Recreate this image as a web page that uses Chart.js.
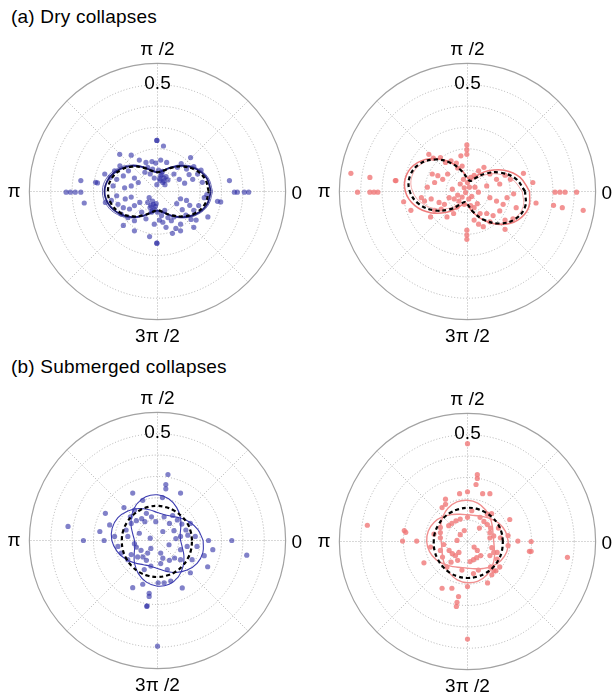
<!DOCTYPE html>
<html>
<head>
<meta charset="utf-8">
<script src="https://cdn.jsdelivr.net/npm/chart.js@4.4.1/dist/chart.umd.min.js"></script>
<style>
  body { margin: 0; width: 612px; height: 696px; overflow: hidden; background: #fff; position: relative;
         font-family: "Liberation Sans", Arial, sans-serif; }
  .title { position: absolute; left: 11px; font-size: 19px; line-height: 19px; letter-spacing: 0.2px;
           color: #000; white-space: nowrap; }
  canvas { position: absolute; }
</style>
</head>
<body>
<div class="title" style="top:7px">(a) Dry collapses</div>
<div class="title" style="top:357px">(b) Submerged collapses</div>
<canvas id="dryBlue" width="320" height="320" style="left:-3px;top:31px"></canvas>
<canvas id="dryPink" width="320" height="320" style="left:307px;top:31px"></canvas>
<canvas id="subBlue" width="320" height="320" style="left:-3px;top:380px"></canvas>
<canvas id="subPink" width="320" height="320" style="left:307px;top:381px"></canvas>
<script>
// polar grid
const gridRadii = [0.1, 0.2, 0.3, 0.4, 0.5];
const outerRadius = 0.6;
const spokeAngles = [0, 45, 90, 135, 180, 225, 270, 315];
const angleLabels = ["0", "π /2", "π", "3π /2"];
const radiusLabel = "0.5";

// fitted curves, radius every 15 degrees
const curveAngles = [0, 15, 30, 45, 60, 75, 90, 105, 120, 135, 150, 165,
  180, 195, 210, 225, 240, 255, 270, 285, 300, 315, 330, 345];

const dryBlueSolid = [0.250, 0.239, 0.210, 0.170, 0.130, 0.101, 0.090, 0.101, 0.130, 0.170, 0.207, 0.236,
  0.248, 0.236, 0.207, 0.170, 0.130, 0.101, 0.090, 0.101, 0.130, 0.170, 0.210, 0.239];
const dryBlueThin = [0.258, 0.246, 0.216, 0.175, 0.134, 0.104, 0.094, 0.104, 0.134, 0.175, 0.216, 0.246,
  0.258, 0.246, 0.216, 0.175, 0.134, 0.104, 0.094, 0.104, 0.134, 0.175, 0.216, 0.246];
const dryBlueDashed = [0.240, 0.230, 0.203, 0.165, 0.128, 0.100, 0.090, 0.100, 0.128, 0.165, 0.200, 0.224,
  0.232, 0.224, 0.200, 0.165, 0.128, 0.100, 0.088, 0.100, 0.128, 0.165, 0.203, 0.230];

const dryPinkSolid = [0.291, 0.255, 0.199, 0.137, 0.086, 0.060, 0.065, 0.101, 0.157, 0.219, 0.270, 0.296,
  0.291, 0.255, 0.199, 0.137, 0.086, 0.060, 0.065, 0.101, 0.157, 0.219, 0.270, 0.296];
const dryPinkThin = [0.257, 0.218, 0.164, 0.108, 0.067, 0.050, 0.063, 0.102, 0.156, 0.212, 0.253, 0.270,
  0.257, 0.218, 0.164, 0.108, 0.067, 0.050, 0.063, 0.102, 0.156, 0.212, 0.253, 0.270];
const dryPinkDashed = [0.270, 0.233, 0.177, 0.118, 0.072, 0.051, 0.060, 0.097, 0.153, 0.212, 0.258, 0.279,
  0.270, 0.233, 0.177, 0.118, 0.072, 0.051, 0.060, 0.097, 0.153, 0.212, 0.258, 0.279];

const subBlueA = [0.108, 0.110, 0.126, 0.152, 0.179, 0.202, 0.214, 0.212, 0.196, 0.170, 0.143, 0.120,
  0.108, 0.110, 0.126, 0.152, 0.179, 0.202, 0.214, 0.212, 0.196, 0.170, 0.143, 0.120];
const subBlueB = [0.214, 0.196, 0.173, 0.149, 0.131, 0.125, 0.131, 0.149, 0.173, 0.196, 0.214, 0.220,
  0.214, 0.196, 0.173, 0.149, 0.131, 0.125, 0.131, 0.149, 0.173, 0.196, 0.214, 0.220];
const subBlueDashed = [0.162, 0.161, 0.161, 0.160, 0.160, 0.161, 0.162, 0.163, 0.164, 0.165, 0.166, 0.167,
  0.167, 0.168, 0.169, 0.170, 0.171, 0.171, 0.171, 0.170, 0.169, 0.167, 0.165, 0.163];

const subPinkA = [0.123, 0.124, 0.135, 0.152, 0.170, 0.186, 0.193, 0.192, 0.181, 0.164, 0.146, 0.130,
  0.123, 0.124, 0.135, 0.152, 0.170, 0.186, 0.193, 0.192, 0.181, 0.164, 0.146, 0.130];
const subPinkB = [0.191, 0.184, 0.170, 0.152, 0.136, 0.126, 0.125, 0.132, 0.146, 0.164, 0.180, 0.190,
  0.191, 0.184, 0.170, 0.152, 0.136, 0.126, 0.125, 0.132, 0.146, 0.164, 0.180, 0.190];
const subPinkDashed = [0.166, 0.165, 0.164, 0.162, 0.160, 0.159, 0.158, 0.157, 0.157, 0.157, 0.157, 0.158,
  0.158, 0.160, 0.162, 0.165, 0.168, 0.170, 0.171, 0.171, 0.171, 0.170, 0.169, 0.167];

// measured points as [r cos(theta), r sin(theta)]
const dryBluePoints = [
  [-0.003, 0.239], [-0.003, 0.239], [-0.003, -0.242], [-0.003, -0.242], [0.028, 0.213], [-0.037, -0.211],
  [-0.290, 0.043], [-0.281, 0.040], [-0.343, -0.054], [-0.177, 0.174], [-0.123, 0.170], [-0.085, 0.147],
  [-0.054, 0.136], [-0.026, 0.140], [-0.008, 0.133], [0.015, 0.147], [0.043, 0.136], [-0.046, 0.113],
  [0.005, 0.100], [0.023, 0.094], [0.015, 0.074], [0.031, 0.063], [0.012, 0.051], [0.025, 0.042],
  [0.035, 0.032], [0.049, 0.054], [-0.003, 0.032], [-0.015, 0.063], [-0.034, 0.082], [-0.023, 0.105],
  [-0.059, 0.090], [0.093, 0.113], [0.111, 0.131], [0.136, 0.105], [0.148, 0.079], [0.165, 0.057],
  [0.188, 0.082], [0.204, 0.100], [0.170, 0.116], [0.077, 0.082], [0.102, 0.057], [0.127, 0.039],
  [0.210, 0.043], [0.231, -0.014], [0.281, -0.046], [0.296, -0.049], [0.236, -0.119], [0.219, -0.029],
  [0.193, -0.066], [0.170, -0.088], [0.151, -0.065], [0.136, -0.042], [0.108, -0.034], [0.090, -0.057],
  [0.116, -0.085], [0.133, -0.110], [0.157, -0.131], [0.181, -0.134], [0.086, -0.173], [0.108, -0.153],
  [0.170, -0.168], [-0.247, 0.082], [-0.222, 0.066], [-0.191, 0.057], [-0.160, 0.073], [-0.136, 0.097],
  [-0.176, 0.120], [-0.201, 0.097], [-0.108, 0.063], [-0.090, 0.042], [-0.123, 0.026], [-0.154, 0.017],
  [-0.208, 0.026], [-0.244, -0.051], [-0.216, -0.042], [-0.185, -0.060], [-0.160, -0.076], [-0.131, -0.082],
  [-0.108, -0.066], [-0.083, -0.051], [-0.151, -0.035], [-0.191, -0.020], [-0.123, -0.026], [-0.170, -0.106],
  [-0.139, -0.122], [-0.108, -0.137], [-0.074, -0.097], [-0.054, -0.128], [-0.039, -0.029], [-0.023, -0.045],
  [-0.031, -0.066], [-0.015, -0.082], [-0.006, -0.057], [-0.046, -0.051], [-0.028, -0.097], [0.000, -0.097],
  [0.019, -0.113], [0.034, -0.088], [0.049, -0.122], [0.009, -0.134], [-0.015, -0.153], [0.025, -0.144],
  [0.065, -0.137], [0.040, -0.168], [0.077, -0.119], [-0.108, -0.184], [0.108, -0.184], [-0.160, -0.159],
  [-0.428, -0.003], [-0.408, -0.003], [-0.385, -0.003], [-0.359, -0.003], [-0.359, 0.051], [0.337, 0.051],
  [0.360, -0.003], [0.374, -0.003], [0.407, -0.003], [0.427, -0.003], [0.155, 0.159], [0.070, -0.196],
  [0.020, 0.080], [0.040, 0.070], [0.010, 0.060], [0.030, 0.050], [-0.020, -0.060], [-0.035, -0.075],
  [-0.010, -0.070], [-0.025, -0.090]
];
const dryPinkPoints = [
  [-0.003, 0.218], [-0.003, 0.196], [-0.003, 0.174], [-0.003, -0.181], [-0.003, -0.204], [-0.003, -0.224],
  [-0.181, 0.174], [-0.160, 0.156], [-0.127, 0.159], [-0.103, 0.136], [-0.077, 0.144], [-0.052, 0.133],
  [-0.031, 0.167], [-0.046, 0.110], [-0.025, 0.119], [-0.165, 0.082], [-0.139, 0.074], [-0.116, 0.057],
  [-0.093, 0.082], [-0.154, 0.042], [-0.188, 0.020], [-0.216, -0.029], [-0.201, -0.045], [-0.170, -0.035],
  [-0.133, -0.051], [-0.108, -0.060], [-0.154, -0.088], [-0.123, -0.082], [-0.086, -0.029], [-0.071, 0.011],
  [-0.062, -0.035], [-0.046, -0.017], [-0.019, 0.057], [0.000, 0.042], [0.015, 0.066], [0.031, 0.076],
  [-0.034, 0.035], [-0.015, 0.017], [-0.009, -0.005], [-0.025, -0.026], [-0.040, -0.045], [-0.015, -0.060],
  [0.006, -0.035], [0.015, -0.066], [0.031, -0.076], [0.046, -0.057], [0.052, 0.097], [0.077, 0.113],
  [0.105, 0.082], [0.136, 0.057], [0.176, 0.076], [0.201, 0.057], [0.151, 0.035], [0.090, 0.026],
  [0.105, -0.029], [0.136, -0.045], [0.167, -0.060], [0.185, -0.029], [0.216, -0.011], [0.151, -0.091],
  [0.120, -0.113], [0.090, -0.103], [0.176, -0.134], [0.213, -0.128], [0.228, -0.076], [0.262, 0.085],
  [0.306, 0.042], [0.321, -0.054], [0.031, -0.134], [0.052, -0.153], [-0.335, 0.051], [-0.299, -0.048],
  [-0.265, -0.088], [0.074, -0.165], [0.105, -0.142], [-0.065, -0.103], [-0.096, -0.119], [-0.173, -0.119],
  [0.009, 0.020], [0.020, -0.023], [0.035, 0.020], [0.051, -0.003], [-0.049, -0.073], [0.059, -0.103],
  [-0.546, 0.085], [-0.515, -0.003], [-0.457, -0.003], [-0.438, -0.003], [-0.420, -0.003], [-0.457, 0.066],
  [-0.338, 0.051], [0.410, -0.003], [0.433, -0.003], [0.457, -0.003], [0.511, -0.003], [0.403, -0.065],
  [0.444, -0.076], [0.542, -0.088], [0.176, -0.177]
];
const subBluePoints = [
  [0.049, 0.309], [0.039, 0.262], [0.039, 0.242], [0.108, 0.222], [-0.116, 0.222], [-0.157, 0.154],
  [-0.108, 0.142], [-0.244, 0.127], [-0.224, 0.073], [-0.270, 0.042], [-0.250, 0.000], [-0.347, 0.000],
  [-0.127, 0.111], [-0.099, 0.093], [-0.074, 0.102], [-0.052, 0.127], [-0.028, 0.111], [-0.059, 0.088],
  [0.071, 0.117], [0.093, 0.096], [0.114, 0.077], [0.056, 0.080], [0.077, 0.046], [0.133, 0.049],
  [0.142, 0.025], [0.108, 0.019], [0.086, 0.009], [0.239, 0.000], [0.259, -0.043], [0.219, -0.071],
  [0.235, -0.123], [0.154, -0.151], [0.108, -0.090], [0.080, -0.082], [0.056, -0.093], [0.025, -0.083],
  [0.015, -0.108], [-0.046, -0.059], [-0.077, -0.046], [-0.093, -0.077], [-0.108, -0.015], [-0.099, -0.031],
  [-0.068, -0.077], [-0.052, -0.093], [-0.031, -0.037], [0.025, 0.042], [-0.034, 0.011], [-0.116, -0.221],
  [-0.069, -0.205], [-0.039, -0.247], [-0.039, -0.262], [-0.049, -0.306], [0.003, -0.198], [0.031, -0.198],
  [0.062, -0.190], [0.116, -0.222], [-0.419, 0.066], [0.348, 0.000], [0.418, -0.069], [0.000, -0.495],
  [-0.050, -0.309], [0.023, 0.201], [-0.069, 0.188], [-0.147, 0.049], [-0.139, 0.019], [-0.123, -0.066],
  [-0.139, -0.090], [-0.031, -0.120], [-0.062, -0.136], [0.046, -0.136], [0.108, -0.043], [0.139, -0.028],
  [0.162, -0.090], [0.177, 0.019], [0.185, -0.028], [0.054, -0.020], [0.015, -0.059], [-0.085, 0.034],
  [-0.123, 0.080], [-0.008, 0.088], [0.031, 0.111], [0.154, 0.080], [-0.201, 0.019], [-0.185, -0.028],
  [-0.170, -0.059]
];
const subPinkPoints = [
  [0.046, 0.313], [0.046, 0.295], [0.040, 0.267], [0.000, 0.233], [-0.037, 0.224], [0.071, 0.224],
  [0.105, 0.224], [-0.103, 0.198], [-0.119, 0.159], [-0.296, 0.051], [-0.289, 0.043], [-0.304, 0.002],
  [-0.238, 0.002], [0.236, 0.002], [0.298, 0.000], [0.290, -0.046], [0.298, -0.046], [-0.204, -0.100],
  [-0.119, -0.219], [-0.073, -0.219], [0.000, -0.211], [-0.042, -0.258], [-0.049, -0.285], [-0.052, -0.304],
  [0.000, 0.458], [-0.469, 0.076], [0.468, -0.074], [0.000, -0.457], [0.198, 0.103], [0.094, -0.194],
  [0.114, -0.156], [0.133, -0.137], [-0.088, 0.074], [-0.073, 0.085], [-0.054, 0.097], [-0.034, 0.105],
  [-0.127, 0.066], [-0.127, 0.042], [-0.127, 0.017], [-0.111, -0.014], [-0.127, -0.042], [-0.117, -0.073],
  [0.059, 0.113], [0.077, 0.094], [0.093, 0.079], [0.108, 0.063], [0.056, 0.063], [0.105, 0.042],
  [0.123, 0.026], [0.105, 0.017], [0.114, -0.029], [0.123, -0.051], [0.105, -0.066], [0.062, -0.066],
  [0.043, -0.076], [0.028, -0.085], [0.012, -0.094], [-0.086, -0.042], [-0.071, -0.057], [-0.056, -0.066],
  [-0.040, -0.051], [-0.046, -0.088], [-0.077, -0.097], [-0.096, -0.119], [0.145, 0.063], [0.154, 0.017],
  [0.139, -0.051], [0.139, -0.082], [0.151, -0.119], [0.093, 0.128], [0.113, 0.131], [0.108, -0.119],
  [0.123, -0.137], [0.000, 0.113], [-0.015, 0.051], [-0.034, 0.032], [0.031, -0.026], [0.046, -0.042],
  [-0.103, 0.174], [-0.157, 0.035], [-0.173, -0.026], [-0.026, -0.134], [0.028, -0.150], [0.051, -0.134],
  [0.190, 0.028], [0.190, -0.019], [-0.049, 0.005], [0.020, 0.144]
];

const pxPerUnit = 219;
const blueDots = "rgba(45, 45, 165, 0.6)";
const pinkDots = "rgba(240, 120, 120, 0.8)";
const labelFont = '19px "Liberation Sans", Arial, sans-serif';

function curvePoints(radii) {
  const pts = radii.map((r, i) => {
    const a = curveAngles[i] * Math.PI / 180;
    return { x: r * Math.cos(a), y: r * Math.sin(a) };
  });
  pts.push(pts[0]);
  return pts;
}

const polarGrid = {
  id: "polarGrid",
  beforeDatasetsDraw(chart) {
    const { ctx, scales: { x, y } } = chart;
    const cx = x.getPixelForValue(0), cy = y.getPixelForValue(0);
    const unit = x.getPixelForValue(1) - cx;
    ctx.save();
    ctx.strokeStyle = "#b0b0b0";
    ctx.lineWidth = 1;
    ctx.setLineDash([1, 2]);
    gridRadii.forEach((r) => {
      ctx.beginPath();
      ctx.arc(cx, cy, r * unit, 0, 2 * Math.PI);
      ctx.stroke();
    });
    spokeAngles.forEach((deg) => {
      const a = deg * Math.PI / 180;
      ctx.beginPath();
      ctx.moveTo(cx, cy);
      ctx.lineTo(cx + outerRadius * unit * Math.cos(a), cy - outerRadius * unit * Math.sin(a));
      ctx.stroke();
    });
    ctx.setLineDash([]);
    ctx.strokeStyle = "#a2a2a2";
    ctx.lineWidth = 1.2;
    ctx.beginPath();
    ctx.arc(cx, cy, outerRadius * unit, 0, 2 * Math.PI);
    ctx.stroke();
    ctx.restore();
  },
  afterDatasetsDraw(chart) {
    const { ctx, scales: { x, y } } = chart;
    const cx = x.getPixelForValue(0), cy = y.getPixelForValue(0);
    ctx.save();
    ctx.fillStyle = "#000";
    ctx.font = labelFont;
    ctx.textBaseline = "alphabetic";
    ctx.textAlign = "center";
    ctx.fillText(angleLabels[1], cx, cy - 136);
    ctx.fillText(angleLabels[3], cx, cy + 151);
    ctx.fillText(radiusLabel, cx, cy - 102);
    ctx.textAlign = "left";
    ctx.fillText(angleLabels[0], cx + 134, cy + 7.5);
    ctx.textAlign = "right";
    ctx.fillText(angleLabels[2], cx - 137, cy + 6);
    ctx.restore();
  }
};

function makeChart(id, points, dotColor, curves) {
  const lineSets = curves.map((c) => ({
    data: curvePoints(c.radii),
    showLine: true,
    borderColor: c.color,
    borderWidth: c.width,
    borderDash: c.dash || [],
    tension: 0.4,
    pointRadius: 0,
    fill: false
  }));
  new Chart(document.getElementById(id), {
    type: "scatter",
    data: {
      datasets: [
        ...lineSets,
        {
          data: points.map((p) => ({ x: p[0], y: p[1] })),
          backgroundColor: dotColor,
          borderWidth: 0,
          pointRadius: 2.6
        }
      ]
    },
    options: {
      responsive: false,
      animation: false,
      layout: { padding: 0 },
      plugins: { legend: { display: false }, tooltip: { enabled: false } },
      scales: {
        x: { type: "linear", display: false, min: -160.5 / pxPerUnit, max: 159.5 / pxPerUnit },
        y: { type: "linear", display: false, min: -159.5 / pxPerUnit, max: 160.5 / pxPerUnit }
      }
    },
    plugins: [polarGrid]
  });
}

makeChart("dryBlue", dryBluePoints, blueDots, [
  { radii: dryBlueDashed, color: "#000", width: 2.2, dash: [4, 3] },
  { radii: dryBlueSolid, color: "#1f1f7a", width: 1.8 },
  { radii: dryBlueThin, color: "#5b5bb0", width: 0.9 }
]);
makeChart("dryPink", dryPinkPoints, pinkDots, [
  { radii: dryPinkDashed, color: "#000", width: 2.2, dash: [4, 3] },
  { radii: dryPinkSolid, color: "#ee7b7b", width: 1.5 },
  { radii: dryPinkThin, color: "#f3a0a0", width: 0.9 }
]);
makeChart("subBlue", subBluePoints, blueDots, [
  { radii: subBlueDashed, color: "#000", width: 2.2, dash: [4, 3] },
  { radii: subBlueA, color: "#3c3cb0", width: 1.1 },
  { radii: subBlueB, color: "#3c3cb0", width: 1.1 }
]);
makeChart("subPink", subPinkPoints, pinkDots, [
  { radii: subPinkDashed, color: "#000", width: 2.2, dash: [4, 3] },
  { radii: subPinkA, color: "#f09090", width: 1.4 },
  { radii: subPinkB, color: "#f09090", width: 1.4 }
]);
</script>
</body>
</html>
